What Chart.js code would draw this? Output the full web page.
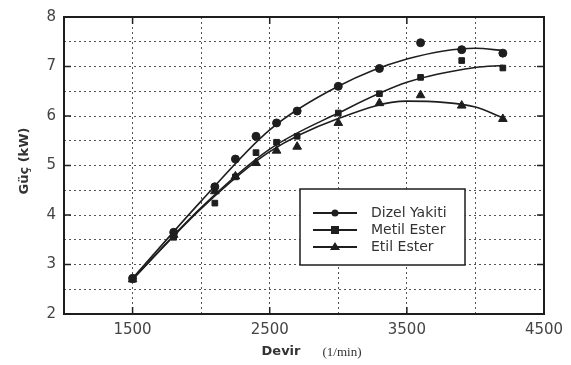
<!DOCTYPE html>
<html>
<head>
<meta charset="utf-8">
<script src="https://cdn.jsdelivr.net/npm/chart.js@4/dist/chart.umd.min.js"></script>
<style>
  html, body { margin: 0; padding: 0; background: #fff; }
  #wrap { width: 571px; height: 365px; }
</style>
</head>
<body>
<div id="wrap"><canvas id="gucChart" width="571" height="365"></canvas></div>
<script>
// measured points (Devir, 1/min)
const rpm = [1500, 1800, 2100, 2250, 2400, 2550, 2700, 3000, 3300, 3600, 3900, 4200];
const dizelYakiti = [2.72, 3.65, 4.57, 5.13, 5.59, 5.86, 6.1, 6.6, 6.96, 7.48, 7.34, 7.27];
const metilEster = [2.7, 3.55, 4.24, 4.77, 5.26, 5.47, 5.59, 6.06, 6.45, 6.78, 7.12, 6.97];
const etilEster = [2.7, 3.6, 4.48, 4.78, 5.05, 5.3, 5.38, 5.86, 6.26, 6.42, 6.21, 5.94];

// fitted curves
const curveRpm = [1500, 2000, 2500, 3000, 3500, 4000, 4200];
const dizelFit = [2.72, 4.28, 5.72, 6.6, 7.15, 7.37, 7.32];
const metilFit = [2.7, 4.15, 5.33, 6.06, 6.68, 6.98, 7.02];
const etilFit = [2.7, 4.13, 5.28, 5.95, 6.3, 6.18, 5.96];

const seriesNames = ['Dizel Yakiti', 'Metil Ester', 'Etil Ester'];
const markers = ['circle', 'rect', 'triangle'];

const xTickLabels = [1500, 2500, 3500, 4500];
const yTickLabels = [2, 3, 4, 5, 6, 7, 8];

const ink = '#1e1e1e';
const toXY = (xs, ys) => xs.map((x, i) => ({ x: x, y: ys[i] }));

const pointSets = [dizelYakiti, metilEster, etilEster].map((vals, i) => ({
    label: seriesNames[i],
    data: toXY(rpm, vals),
    showLine: false,
    pointStyle: markers[i],
    pointRadius: i === 2 ? 5 : 4,
    backgroundColor: ink,
    borderColor: ink,
    borderWidth: 1
}));

const curveSets = [dizelFit, metilFit, etilFit].map(vals => ({
    data: toXY(curveRpm, vals),
    showLine: true,
    pointRadius: 0,
    borderColor: ink,
    borderWidth: 1.6,
    cubicInterpolationMode: 'monotone',
    fill: false
}));

const frameAndText = {
    id: 'frameAndText',
    afterDraw(chart) {
        const ctx = chart.ctx;
        const a = chart.chartArea;
        const xs = chart.scales.x, ys = chart.scales.y;
        ctx.save();
        // plot frame
        ctx.strokeStyle = ink;
        ctx.lineWidth = 2;
        ctx.strokeRect(a.left, a.top, a.right - a.left, a.bottom - a.top);
        // inward tick marks
        ctx.lineWidth = 1.5;
        yTickLabels.forEach(v => {
            const y = ys.getPixelForValue(v);
            ctx.beginPath(); ctx.moveTo(a.left, y); ctx.lineTo(a.left + 7, y); ctx.stroke();
            ctx.beginPath(); ctx.moveTo(a.right, y); ctx.lineTo(a.right - 7, y); ctx.stroke();
        });
        xTickLabels.forEach(v => {
            const x = xs.getPixelForValue(v);
            ctx.beginPath(); ctx.moveTo(x, a.bottom); ctx.lineTo(x, a.bottom - 7); ctx.stroke();
            ctx.beginPath(); ctx.moveTo(x, a.top); ctx.lineTo(x, a.top + 7); ctx.stroke();
        });

        // axis titles
        ctx.fillStyle = '#333';
        ctx.textBaseline = 'middle';
        ctx.textAlign = 'center';
        ctx.font = 'bold 13px "DejaVu Sans"';
        ctx.fillText('Devir', 281, 352);
        ctx.font = '13px "Liberation Serif"';
        ctx.fillText('(1/min)', 342, 353);
        ctx.translate(25, 161);
        ctx.rotate(-Math.PI / 2);
        ctx.font = 'bold 13px "DejaVu Sans"';
        ctx.fillText('Güç (kW)', 0, 0);
        ctx.restore();

        // legend box
        ctx.save();
        ctx.fillStyle = '#fff';
        ctx.fillRect(300, 189, 165, 76);
        ctx.strokeStyle = ink;
        ctx.lineWidth = 1.5;
        ctx.strokeRect(300, 189, 165, 76);
        const rowY = [213, 230, 247];
        seriesNames.forEach((name, i) => {
            const y = rowY[i];
            ctx.strokeStyle = ink;
            ctx.lineWidth = 2;
            ctx.beginPath(); ctx.moveTo(313, y); ctx.lineTo(357, y); ctx.stroke();
            ctx.fillStyle = ink;
            ctx.beginPath();
            if (i === 0) {
                ctx.arc(335, y, 3.5, 0, Math.PI * 2);
            } else if (i === 1) {
                ctx.rect(331, y - 4, 8, 8);
            } else {
                ctx.moveTo(335, y - 5); ctx.lineTo(340, y + 3); ctx.lineTo(330, y + 3); ctx.closePath();
            }
            ctx.fill();
            ctx.fillStyle = '#333';
            ctx.textAlign = 'left';
            ctx.textBaseline = 'middle';
            ctx.font = '14px "DejaVu Sans"';
            ctx.fillText(name, 371, y);
        });
        ctx.restore();
    }
};

new Chart(document.getElementById('gucChart'), {
    type: 'scatter',
    data: { datasets: curveSets.concat(pointSets) },
    options: {
        responsive: false,
        animation: false,
        layout: { padding: { top: 13, right: 27, bottom: 0, left: 0 } },
        plugins: {
            legend: { display: false },
            tooltip: { enabled: false }
        },
        scales: {
            x: {
                type: 'linear',
                min: 1000,
                max: 4500,
                afterFit(scale) { scale.height = 51; },
                grid: {
                    color: '#555',
                    lineWidth: 1,
                    drawTicks: false
                },
                border: { display: false, dash: [2, 3] },
                ticks: {
                    stepSize: 500,
                    autoSkip: false,
                    maxRotation: 0,
                    padding: 7,
                    color: '#444',
                    font: { family: 'DejaVu Sans', size: 15 },
                    callback: v => xTickLabels.includes(v) ? String(v) : ''
                }
            },
            y: {
                min: 2,
                max: 8,
                afterFit(scale) { scale.width = 64; },
                grid: {
                    color: '#555',
                    lineWidth: 1,
                    drawTicks: false
                },
                border: { display: false, dash: [2, 3] },
                ticks: {
                    stepSize: 0.5,
                    autoSkip: false,
                    padding: 8,
                    color: '#444',
                    font: { family: 'DejaVu Sans', size: 15 },
                    callback: v => yTickLabels.includes(v) ? String(v) : ''
                }
            }
        }
    },
    plugins: [frameAndText]
});
</script>
</body>
</html>
